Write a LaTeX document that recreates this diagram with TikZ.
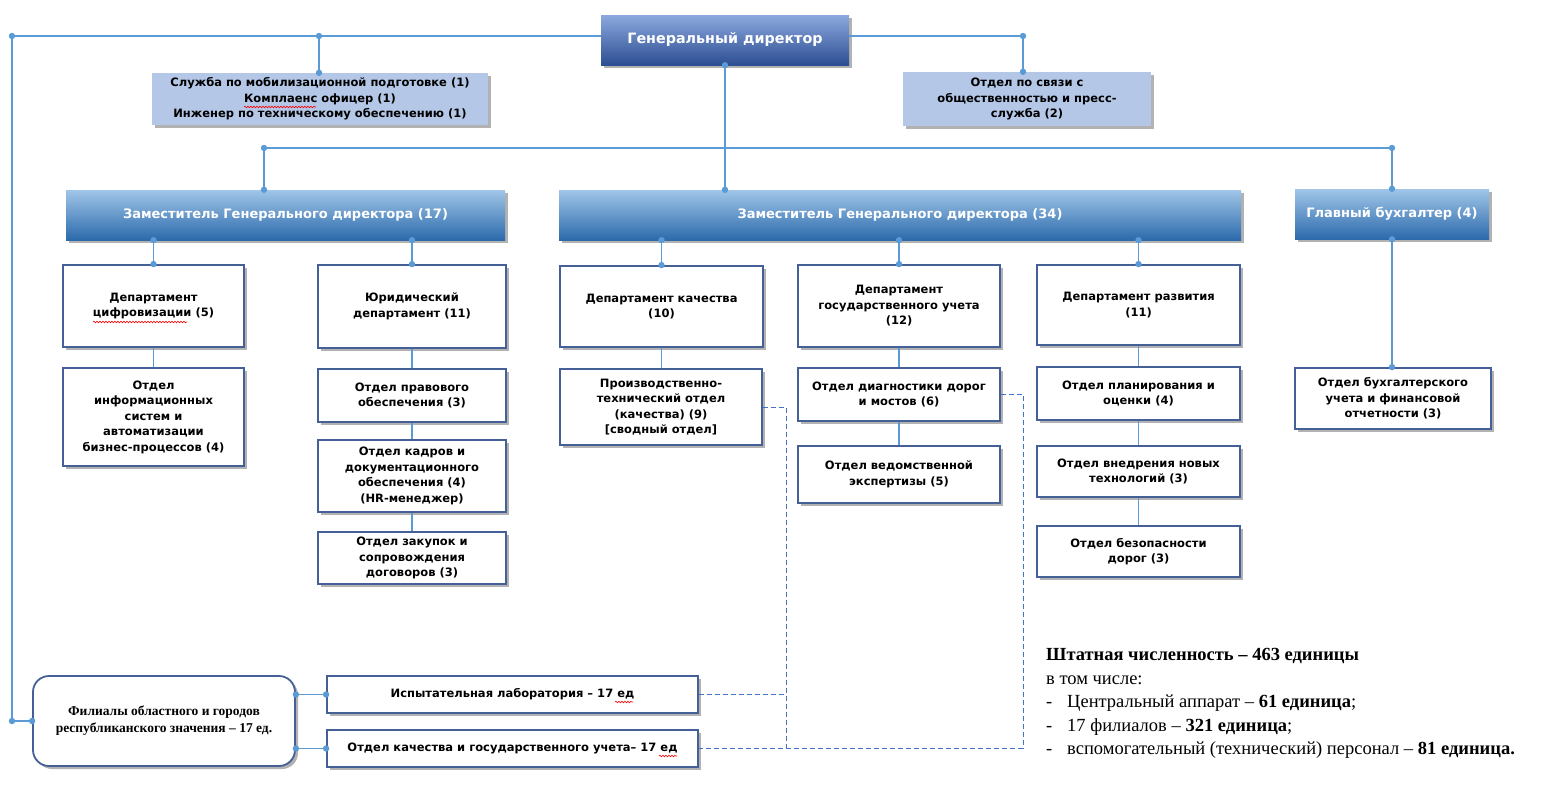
\documentclass[tikz,border=0pt]{standalone}
\usepackage{fontspec}
\setmainfont{DejaVu Sans}
\newfontfamily\tnr{Liberation Serif}
\usetikzlibrary{shadows,calc,decorations.pathmorphing}
\definecolor{cLine}{RGB}{91,155,213}
\definecolor{cBorder}{RGB}{68,96,150}
\definecolor{cLight}{RGB}{180,199,231}
\definecolor{cDash}{RGB}{68,114,196}
\tikzset{
  conn/.style={draw=cLine, line width=1.3pt},
  dashline/.style={draw=cDash, line width=0.9pt, dash pattern=on 5pt off 3pt},
  dotmark/.style={fill=cLine, draw=none},
  squig/.style={draw=red, line width=0.6pt, decorate, decoration={snake, amplitude=0.8pt, segment length=3pt}},
  shad/.style={drop shadow={shadow xshift=3pt, shadow yshift=-3pt, fill=black, opacity=0.3}},
  box/.style={shad, draw=cBorder, line width=1.8pt, fill=white, inner sep=0pt, align=center,
     font=\bfseries\fontsize{11.5}{15.5}\selectfont},
  lbox/.style={shad, fill=cLight, inner sep=0pt, align=center,
     font=\bfseries\fontsize{11.5}{15.5}\selectfont},
  hbox/.style={shad, top color={rgb,255:red,160;green,198;blue,232}, bottom color={rgb,255:red,44;green,106;blue,172},
     inner sep=0pt, align=center, text=white, font=\bfseries\fontsize{13}{15}\selectfont},
  gbox/.style={shad, top color={rgb,255:red,140;green,168;blue,222}, bottom color={rgb,255:red,44;green,78;blue,146},
     inner sep=0pt, align=center, text=white, font=\bfseries\fontsize{14.3}{16}\selectfont},
}
\newcommand{\dt}[1]{\fill[dotmark] #1 circle (3.2pt);}
\begin{document}
\begin{tikzpicture}[x=1pt,y=-1pt]
\useasboundingbox[fill=white] (0,0) rectangle (1553,787);

% nodes
\node[gbox, minimum width=248pt, minimum height=50pt] (gen) at (725,40) {Генеральный директор};
\node[lbox, minimum width=336pt, minimum height=52pt] (mob) at (320,99) {Служба по мобилизационной подготовке (1)\\Комплаенс офицер (1)\\Инженер по техническому обеспечению (1)};
\node[lbox, minimum width=248pt, minimum height=54pt] (pr) at (1027,99) {Отдел по связи с\\общественностью и пресс-\\служба (2)};

\node[hbox, minimum width=439pt, minimum height=50pt] (z17) at (285.5,215) {Заместитель Генерального директора (17)};
\node[hbox, minimum width=682pt, minimum height=50pt] (z34) at (900,215) {Заместитель Генерального директора (34)};
\node[hbox, minimum width=194pt, minimum height=50pt] (chief) at (1392,214) {Главный бухгалтер (4)};

\node[box, minimum width=181pt, minimum height=82pt] (dig) at (153.5,306) {Департамент\\цифровизации (5)};
\node[box, minimum width=181pt, minimum height=98pt] (info) at (153.5,417) {Отдел\\информационных\\систем и\\автоматизации\\бизнес-процессов (4)};
\node[box, minimum width=188pt, minimum height=83pt] (yur) at (412,306.5) {Юридический\\департамент (11)};
\node[box, minimum width=188pt, minimum height=53pt] (prav) at (412,395.5) {Отдел правового\\обеспечения (3)};
\node[box, minimum width=188pt, minimum height=72pt] (kadr) at (412,476) {Отдел кадров и\\документационного\\обеспечения (4)\\(HR-менеджер)};
\node[box, minimum width=188pt, minimum height=52pt] (zak) at (412,558) {Отдел закупок и\\сопровождения\\договоров (3)};

\node[box, minimum width=203pt, minimum height=81pt] (kach) at (661.5,306.5) {Департамент качества\\(10)};
\node[box, minimum width=202pt, minimum height=76pt] (proiz) at (661,407) {Производственно-\\технический отдел\\(качества) (9)\\{[}сводный отдел{]}};
\node[box, minimum width=202pt, minimum height=82pt] (gos) at (899,306) {Департамент\\государственного учета\\(12)};
\node[box, minimum width=202pt, minimum height=53pt] (diag) at (899,394.5) {Отдел диагностики дорог\\и мостов (6)};
\node[box, minimum width=202pt, minimum height=57pt] (ved) at (899,474.5) {Отдел ведомственной\\экспертизы (5)};
\node[box, minimum width=203pt, minimum height=80pt] (razv) at (1138.5,305) {Департамент развития\\(11)};
\node[box, minimum width=203pt, minimum height=53pt] (plan) at (1138.5,393.5) {Отдел планирования и\\оценки (4)};
\node[box, minimum width=203pt, minimum height=51pt] (vned) at (1138.5,471.5) {Отдел внедрения новых\\технологий (3)};
\node[box, minimum width=203pt, minimum height=51pt] (bez) at (1138.5,551.5) {Отдел безопасности\\дорог (3)};
\node[box, minimum width=196pt, minimum height=61pt] (buh) at (1393,398.5) {Отдел бухгалтерского\\учета и финансовой\\отчетности (3)};

\node[shad, draw=cBorder, line width=1.8pt, fill=white, rounded corners=16pt, minimum width=262pt, minimum height=90pt,
  align=center, font=\tnr\bfseries\fontsize{13.5}{17}\selectfont] (fil) at (164,721) {Филиалы областного и городов\\республиканского значения – 17 ед.};
\node[box, minimum width=371pt, minimum height=37pt] (isp) at (512.5,694.5) {Испытательная лаборатория – 17 ед};
\node[box, minimum width=371pt, minimum height=37pt] (okg) at (512.5,748.5) {Отдел качества и государственного учета– 17 ед};

% coordinates
\coordinate (tl) at (12,36);
\coordinate (tm) at (319,36);
\coordinate (tr) at (1023,36);
\coordinate (hl) at (264,148);
\coordinate (hr) at (1392,148);
\coordinate (dx) at (786,0);
\coordinate (dy) at (1023,0);

% connectors
\draw[conn] (gen.west |- tl) -- (tl) -- (tl |- fil.west) -- (fil.west);
\draw[conn] (tm) -- (tm |- mob.north);
\draw[conn] (gen.east |- tr) -- (tr) -- (tr |- pr.north);
\draw[conn] (gen.south) -- (gen.south |- z34.north);
\draw[conn] (hl) -- (hr);
\draw[conn] (hl) -- (hl |- z17.north);
\draw[conn] (hr) -- (chief.north);

\draw[conn] (dig.north |- z17.south) -- (dig.north);
\draw[conn] (yur.north |- z17.south) -- (yur.north);
\draw[conn] (kach.north |- z34.south) -- (kach.north);
\draw[conn] (gos.north |- z34.south) -- (gos.north);
\draw[conn] (razv.north |- z34.south) -- (razv.north);
\draw[conn] (chief.south) -- (chief.south |- buh.north);

\draw[conn] (dig.south) -- (info.north);
\draw[conn] (yur.south) -- (prav.north);
\draw[conn] (prav.south) -- (kadr.north);
\draw[conn] (kadr.south) -- (zak.north);
\draw[conn] (kach.south) -- (kach.south |- proiz.north);
\draw[conn] (gos.south) -- (diag.north);
\draw[conn] (diag.south) -- (ved.north);
\draw[conn] (razv.south) -- (plan.north);
\draw[conn] (plan.south) -- (vned.north);
\draw[conn] (vned.south) -- (bez.north);

\draw[conn] (fil.east |- isp.west) -- (isp.west);
\draw[conn] (fil.east |- okg.west) -- (okg.west);

% dots
\dt{(tl)} \dt{(tm)} \dt{(tr)} \dt{(tm |- mob.north)} \dt{(tr |- pr.north)}
\dt{(gen.south)} \dt{(gen.south |- z34.north)} \dt{(hl)} \dt{(hr)}
\dt{(hl |- z17.north)} \dt{(chief.north)}
\dt{(dig.north |- z17.south)} \dt{(dig.north)} \dt{(yur.north |- z17.south)} \dt{(yur.north)}
\dt{(kach.north |- z34.south)} \dt{(kach.north)} \dt{(gos.north |- z34.south)} \dt{(gos.north)}
\dt{(razv.north |- z34.south)} \dt{(razv.north)}
\dt{(chief.south)} \dt{(chief.south |- buh.north)}
\dt{(tl |- fil.west)} \dt{(fil.west)}
\dt{(fil.east |- isp.west)} \dt{(isp.west)} \dt{(fil.east |- okg.west)} \dt{(okg.west)}

% dashed
\draw[dashline] (proiz.east) -- (proiz.east -| dx) -- (dx |- okg.east);
\draw[dashline] (isp.east) -- (isp.east -| dx);
\draw[dashline] (diag.east) -- (diag.east -| dy) -- (dy |- okg.east) -- (okg.east);

% spell-check marks
\draw[squig] (244,107) -- (316,107);
\draw[squig] (93,322) -- (187,322);
\draw[squig] (615,702) -- (633,702);
\draw[squig] (659,756) -- (677,756);

% summary text
\node[anchor=north west, inner sep=0pt, align=left, font=\tnr\fontsize{18.5}{23.6}\selectfont] (summ) at (1046,648) {%
\textbf{Штатная численность – 463 единицы}\\
в том числе:\\
\makebox[21pt][l]{-}Центральный аппарат – \textbf{61 единица};\\
\makebox[21pt][l]{-}17 филиалов – \textbf{321 единица};\\
\makebox[21pt][l]{-}вспомогательный (технический) персонал – \textbf{81 единица.}};
\end{tikzpicture}
\end{document}
